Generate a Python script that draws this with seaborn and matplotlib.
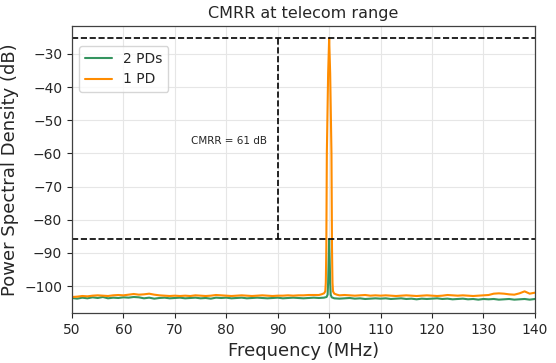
import numpy as np
import pandas as pd
import matplotlib
matplotlib.use("Agg")
import matplotlib.pyplot as plt
import seaborn as sns

# ---- data ----
freq_orange = (list(range(50, 98)) +
               [98.0, 98.5, 99.0, 99.25, 99.35, 99.4, 99.45, 99.55, 99.8, 100.0,
                100.2, 100.45, 100.55, 100.6, 100.65, 100.75, 101.0, 101.5] +
               list(range(102, 141)))
psd_orange = [
    -103.3, -103.2, -103.0, -103.1, -102.9, -102.8, -102.9, -103.0, -102.8, -102.7,
    -102.8, -102.6, -102.4, -102.6, -102.5, -102.3, -102.6, -102.8, -102.9, -103.0,
    -102.9, -103.0, -102.9, -103.0, -102.8, -102.9, -103.0, -102.9, -102.7, -102.8,
    -102.9, -103.0, -102.9, -102.8, -102.9, -103.0, -102.9, -102.8, -102.9, -103.0,
    -102.9, -102.9, -102.8, -102.9, -102.8, -102.8, -102.7, -102.7,
    -102.7, -102.5, -102.2, -101.6, -99.0, -94.0, -88.0, -60.0, -36.0, -25.3,
    -36.0, -60.0, -88.0, -94.0, -99.0, -101.6, -102.3, -102.6,
    -102.8, -102.7, -102.8, -102.9, -102.8, -102.7, -102.9, -102.8, -102.9,
    -102.8, -102.9, -103.0, -102.9, -102.8, -102.9, -103.0, -102.9, -102.8, -102.9,
    -103.0, -102.9, -102.7, -102.8, -102.9, -102.8, -102.9, -103.0, -102.9, -102.8,
    -102.7, -102.3, -102.2, -102.3, -102.5, -102.6, -102.2, -101.6, -102.3, -102.0,
]

freq_green = (list(range(50, 99)) +
              [99.0, 99.5, 99.7, 99.8, 99.9, 100.0, 100.1, 100.2, 100.3, 100.5, 101.0] +
              list(range(102, 141)))
psd_green = [
    -103.6, -103.8, -103.5, -103.7, -103.4, -103.6, -103.3, -103.7, -103.5, -103.6,
    -103.4, -103.5, -103.3, -103.4, -103.7, -103.5, -103.8, -103.6, -103.5, -103.7,
    -103.6, -103.5, -103.7, -103.6, -103.5, -103.7, -103.6, -103.8, -103.5, -103.6,
    -103.5, -103.7, -103.6, -103.5, -103.7, -103.6, -103.5, -103.6, -103.7, -103.6,
    -103.5, -103.7, -103.6, -103.5, -103.6, -103.7, -103.6, -103.5, -103.6,
    -103.5, -103.3, -102.6, -99.0, -92.0, -85.9, -92.0, -99.0, -102.6, -103.4, -103.7,
    -103.8, -103.7, -103.6, -103.8, -103.7, -103.9, -103.8, -103.7,
    -103.8, -103.7, -103.9, -103.8, -103.7, -103.9, -103.8, -104.0, -103.8, -103.9,
    -103.8, -103.7, -103.9, -103.8, -104.0, -103.9, -103.8, -104.0, -103.9, -104.1,
    -103.9, -104.0, -103.9, -104.1, -104.0, -103.9, -104.1, -104.0, -103.9, -104.1, -103.9,
]

series_names = ["2 PDs", "1 PD"]
series_colors = ["#35945f", "darkorange"]
level_top = -25.3
level_bottom = -85.9
cmrr_freq = 90
cmrr_label = "CMRR = 61 dB"

df = pd.concat([
    pd.DataFrame({"freq": freq_green, "psd": psd_green, "series": series_names[0]}),
    pd.DataFrame({"freq": freq_orange, "psd": psd_orange, "series": series_names[1]}),
], ignore_index=True)

sns.set_style("ticks", {"axes.grid": True, "grid.color": ".9", "axes.edgecolor": ".25"})
plt.rcParams["font.family"] = ["DejaVu Sans"]

fig = plt.figure(figsize=(5.56, 3.63), dpi=100)
ax = fig.add_axes([0.1295, 0.138, 0.8325, 0.79])

sns.lineplot(data=df, x="freq", y="psd", hue="series", hue_order=series_names,
             palette=series_colors, estimator=None, sort=True, linewidth=1.5, ax=ax)

ax.axhline(level_top, color="black", linestyle="--", linewidth=1.2)
ax.axhline(level_bottom, color="black", linestyle="--", linewidth=1.2)
ax.plot([cmrr_freq, cmrr_freq], [level_bottom, level_top], color="black",
        linestyle="--", linewidth=1.2)
ax.text(80.6, -56.2, cmrr_label, fontsize=7.5, ha="center", va="center")

ax.set_xlim(50, 140)
ax.set_ylim(-108.1, -21.6)
ax.set_xticks(range(50, 141, 10))
ax.set_yticks(range(-100, -29, 10))
ax.tick_params(labelsize=10, length=3.5, width=0.8)
ax.set_xlabel("Frequency (MHz)", fontsize=13)
ax.set_ylabel("Power Spectral Density (dB)", fontsize=13)
ax.set_title("CMRR at telecom range", fontsize=11.5)
for s in ax.spines.values():
    s.set_linewidth(0.9)

leg = ax.legend(loc="upper left", fontsize=10, frameon=True, bbox_to_anchor=(0.0, 0.955))
leg.set_title(None)

fig.savefig("out.png", dpi=100)
